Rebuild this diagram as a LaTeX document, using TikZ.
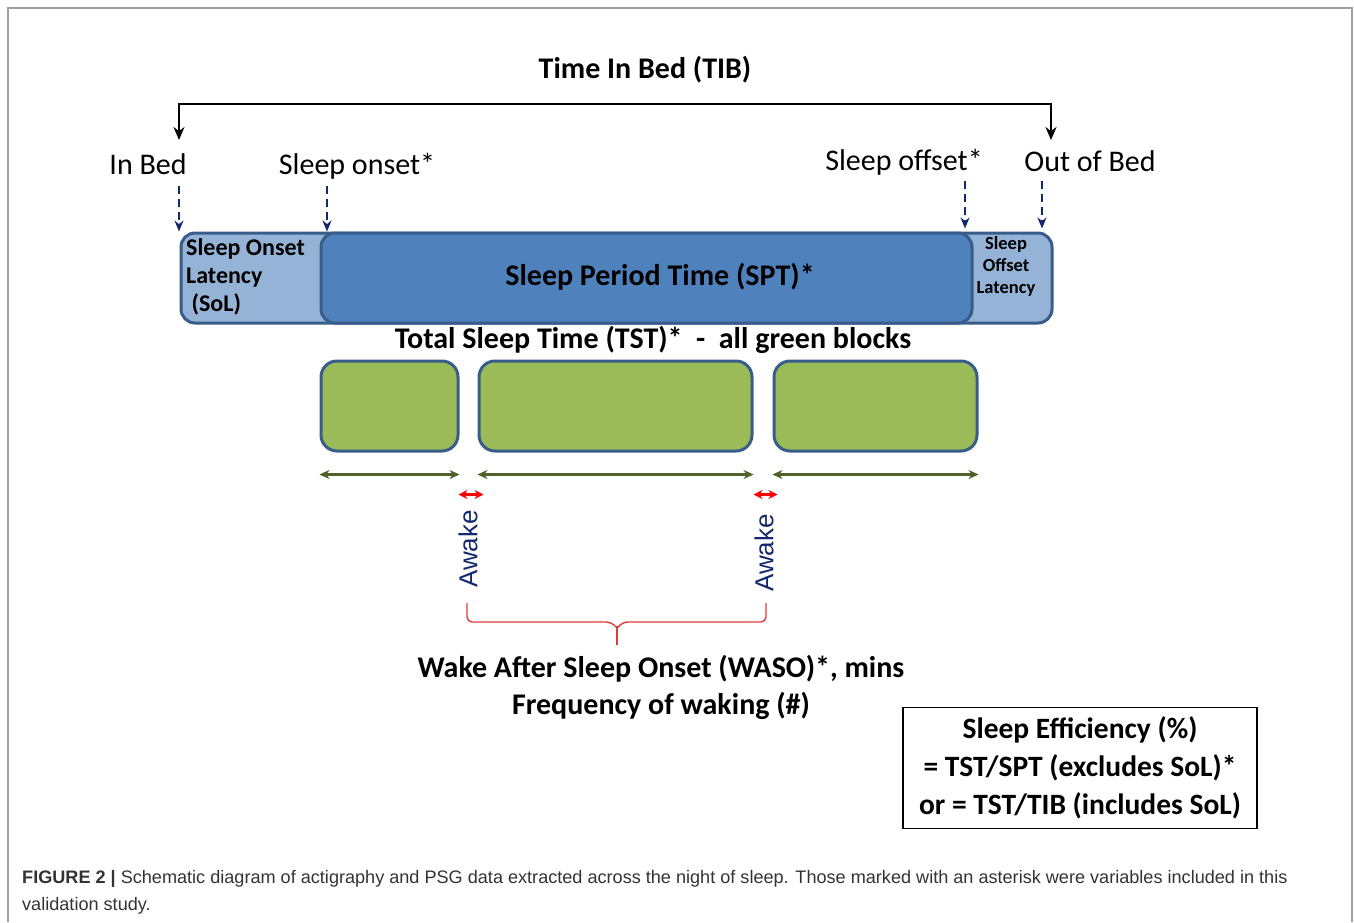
\documentclass[tikz,border=0pt]{standalone}
\usepackage{fontspec}
\setmainfont{Carlito}
\newfontfamily\capfont{Liberation Sans}
\usetikzlibrary{arrows.meta}

\definecolor{barline}{HTML}{385D8A}
\definecolor{barlight}{HTML}{95B3D7}
\definecolor{barmid}{HTML}{4F81BD}
\definecolor{blockgreen}{HTML}{9BBB59}
\definecolor{spangreen}{HTML}{4F6228}
\definecolor{navy}{HTML}{14286E}
\definecolor{bracered}{HTML}{E03C3C}
\definecolor{framegray}{HTML}{A0A0A0}
\definecolor{capgray}{HTML}{333333}

\begin{document}
\begin{tikzpicture}
    [x=1pt,y=-1pt,
    label/.style={font=\fontsize{30}{32}\selectfont},
    title/.style={font=\fontsize{30}{32}\selectfont\bfseries},
    bar/.style={shape=rectangle,draw=barline,line width=3pt,rounded corners=14pt,minimum height=90pt,inner sep=0pt},
    block/.style={shape=rectangle,draw=barline,fill=blockgreen,line width=3pt,rounded corners=16pt,minimum height=90pt,inner sep=0pt},
    pointer/.style={-{Stealth[length=11pt,width=9pt]},line width=1.8pt,dash pattern=on 8pt off 5pt,draw=navy},
    bracket/.style={{Stealth[length=13pt,width=11pt]}-{Stealth[length=13pt,width=11pt]},line width=2.5pt},
    span/.style={{Stealth[length=10pt,width=9pt]}-{Stealth[length=10pt,width=9pt]},line width=2.2pt,draw=spangreen},
    gap/.style={{Stealth[length=9pt,width=9pt]}-{Stealth[length=9pt,width=9pt]},line width=2.2pt,draw=red},
    brace/.style={draw=bracered,line width=1.4pt,rounded corners=5pt}]

    \useasboundingbox (0,0) rectangle (1354,922);
    \draw [framegray,line width=1.5pt] (8,922) -- (8,8) -- (1352,8) -- (1352,922);

    % time in bed
    \node (tibtitle) [title] at (645,70) {Time In Bed (TIB)};
    \coordinate (tl) at (179,140);
    \coordinate (tr) at (1051,140);
    \coordinate (ttop) at (615,104);
    \draw [bracket] (tl) -- (tl |- ttop) -- (tr |- ttop) -- (tr);

    \node (inbed) [label] at (148,164) {In Bed};
    \node (onset) [label] at (357,166) {Sleep onset*};
    \node (offset) [label] at (904,162) {Sleep offset*};
    \node (outbed) [label] at (1090,161) {Out of Bed};

    % bars
    \node (tib) [bar,fill=barlight,minimum width=871pt] at (616.5,278) {};
    \node (spt) [bar,fill=barmid,minimum width=651pt] at (646.5,278) {};
    \node (sol) [font=\fontsize{24}{28}\selectfont\bfseries,align=left,anchor=west,inner sep=0pt] at (186,277) {Sleep Onset\\Latency\\\ (SoL)};
    \node (sptlabel) [title] at (660,277) {Sleep Period Time (SPT)*};
    \node (sofl) [font=\fontsize{18.5}{22}\selectfont\bfseries,align=center,inner sep=0pt] at (1006,266) {Sleep\\Offset\\Latency};

    \coordinate (p1) at (179,186);
    \coordinate (p2) at (327,186);
    \coordinate (p3) at (965,181);
    \coordinate (p4) at (1042,181);
    \draw [pointer] (p1) -- (p1 |- tib.north);
    \draw [pointer] (p2) -- (p2 |- tib.north);
    \draw [pointer] (p3) -- ([yshift=3pt]p3 |- tib.north);
    \draw [pointer] (p4) -- ([yshift=3pt]p4 |- tib.north);

    % sleep blocks
    \node (tst) [title] at (653,340) {Total Sleep Time (TST)*\ \ -\ \ all green blocks};
    \node (sleep1) [block,minimum width=137pt] at (389.5,406) {};
    \node (sleep2) [block,minimum width=273pt] at (615.5,406) {};
    \node (sleep3) [block,minimum width=203pt] at (875.5,406) {};

    \draw [span] ([yshift=-22pt]sleep1.south west) -- ([yshift=-22pt]sleep1.south east);
    \draw [span] ([yshift=-22pt]sleep2.south west) -- ([yshift=-22pt]sleep2.south east);
    \draw [span] ([yshift=-22pt]sleep3.south west) -- ([yshift=-22pt]sleep3.south east);
    \draw [gap] ([yshift=-42pt,xshift=-1pt]sleep1.south east) -- ([yshift=-42pt,xshift=6pt]sleep2.south west);
    \draw [gap] ([yshift=-42pt]sleep2.south east) -- ([yshift=-42pt,xshift=5pt]sleep3.south west);

    % awake
    \node (awake1) [font=\capfont\fontsize{26}{28}\selectfont,text=navy,rotate=90] at (468,549) {Awake};
    \node (awake2) [font=\capfont\fontsize{26}{28}\selectfont,text=navy,rotate=90] at (764,553) {Awake};
    \coordinate (b1) at (467,603);
    \coordinate (b2) at (766,603);
    \coordinate (btip) at (617,645);
    \draw [brace] (b1) -- (b1 |- 0,622) -- (611,622) -- (617,628);
    \draw [brace] (b2) -- (b2 |- 0,622) -- (623,622) -- (617,628);
    \draw [bracered,line width=1.4pt] (617,626) -- (btip);

    \node (waso) [title,align=center,font=\fontsize{30}{37}\selectfont\bfseries] at (661,687) {Wake After Sleep Onset (WASO)*, mins\\Frequency of waking (\#)};

    % efficiency
    \node (eff) [draw,line width=1.5pt,minimum width=354pt,minimum height=121pt,align=center,font=\fontsize{29.5}{38}\selectfont\bfseries] at (1080,768) {Sleep Efficiency (\%)\\= TST/SPT (excludes SoL)*\\or = TST/TIB (includes SoL)};

    % caption
    \node (caption) [anchor=north west,align=left,inner sep=0pt,text=capgray,font=\capfont\fontsize{18.1}{27}\selectfont] at (22,870) {\textbf{FIGURE 2 |} Schematic diagram of actigraphy and PSG data extracted across the night of sleep. Those marked with an asterisk were variables included in this\\validation study.};

\end{tikzpicture}
\end{document}
